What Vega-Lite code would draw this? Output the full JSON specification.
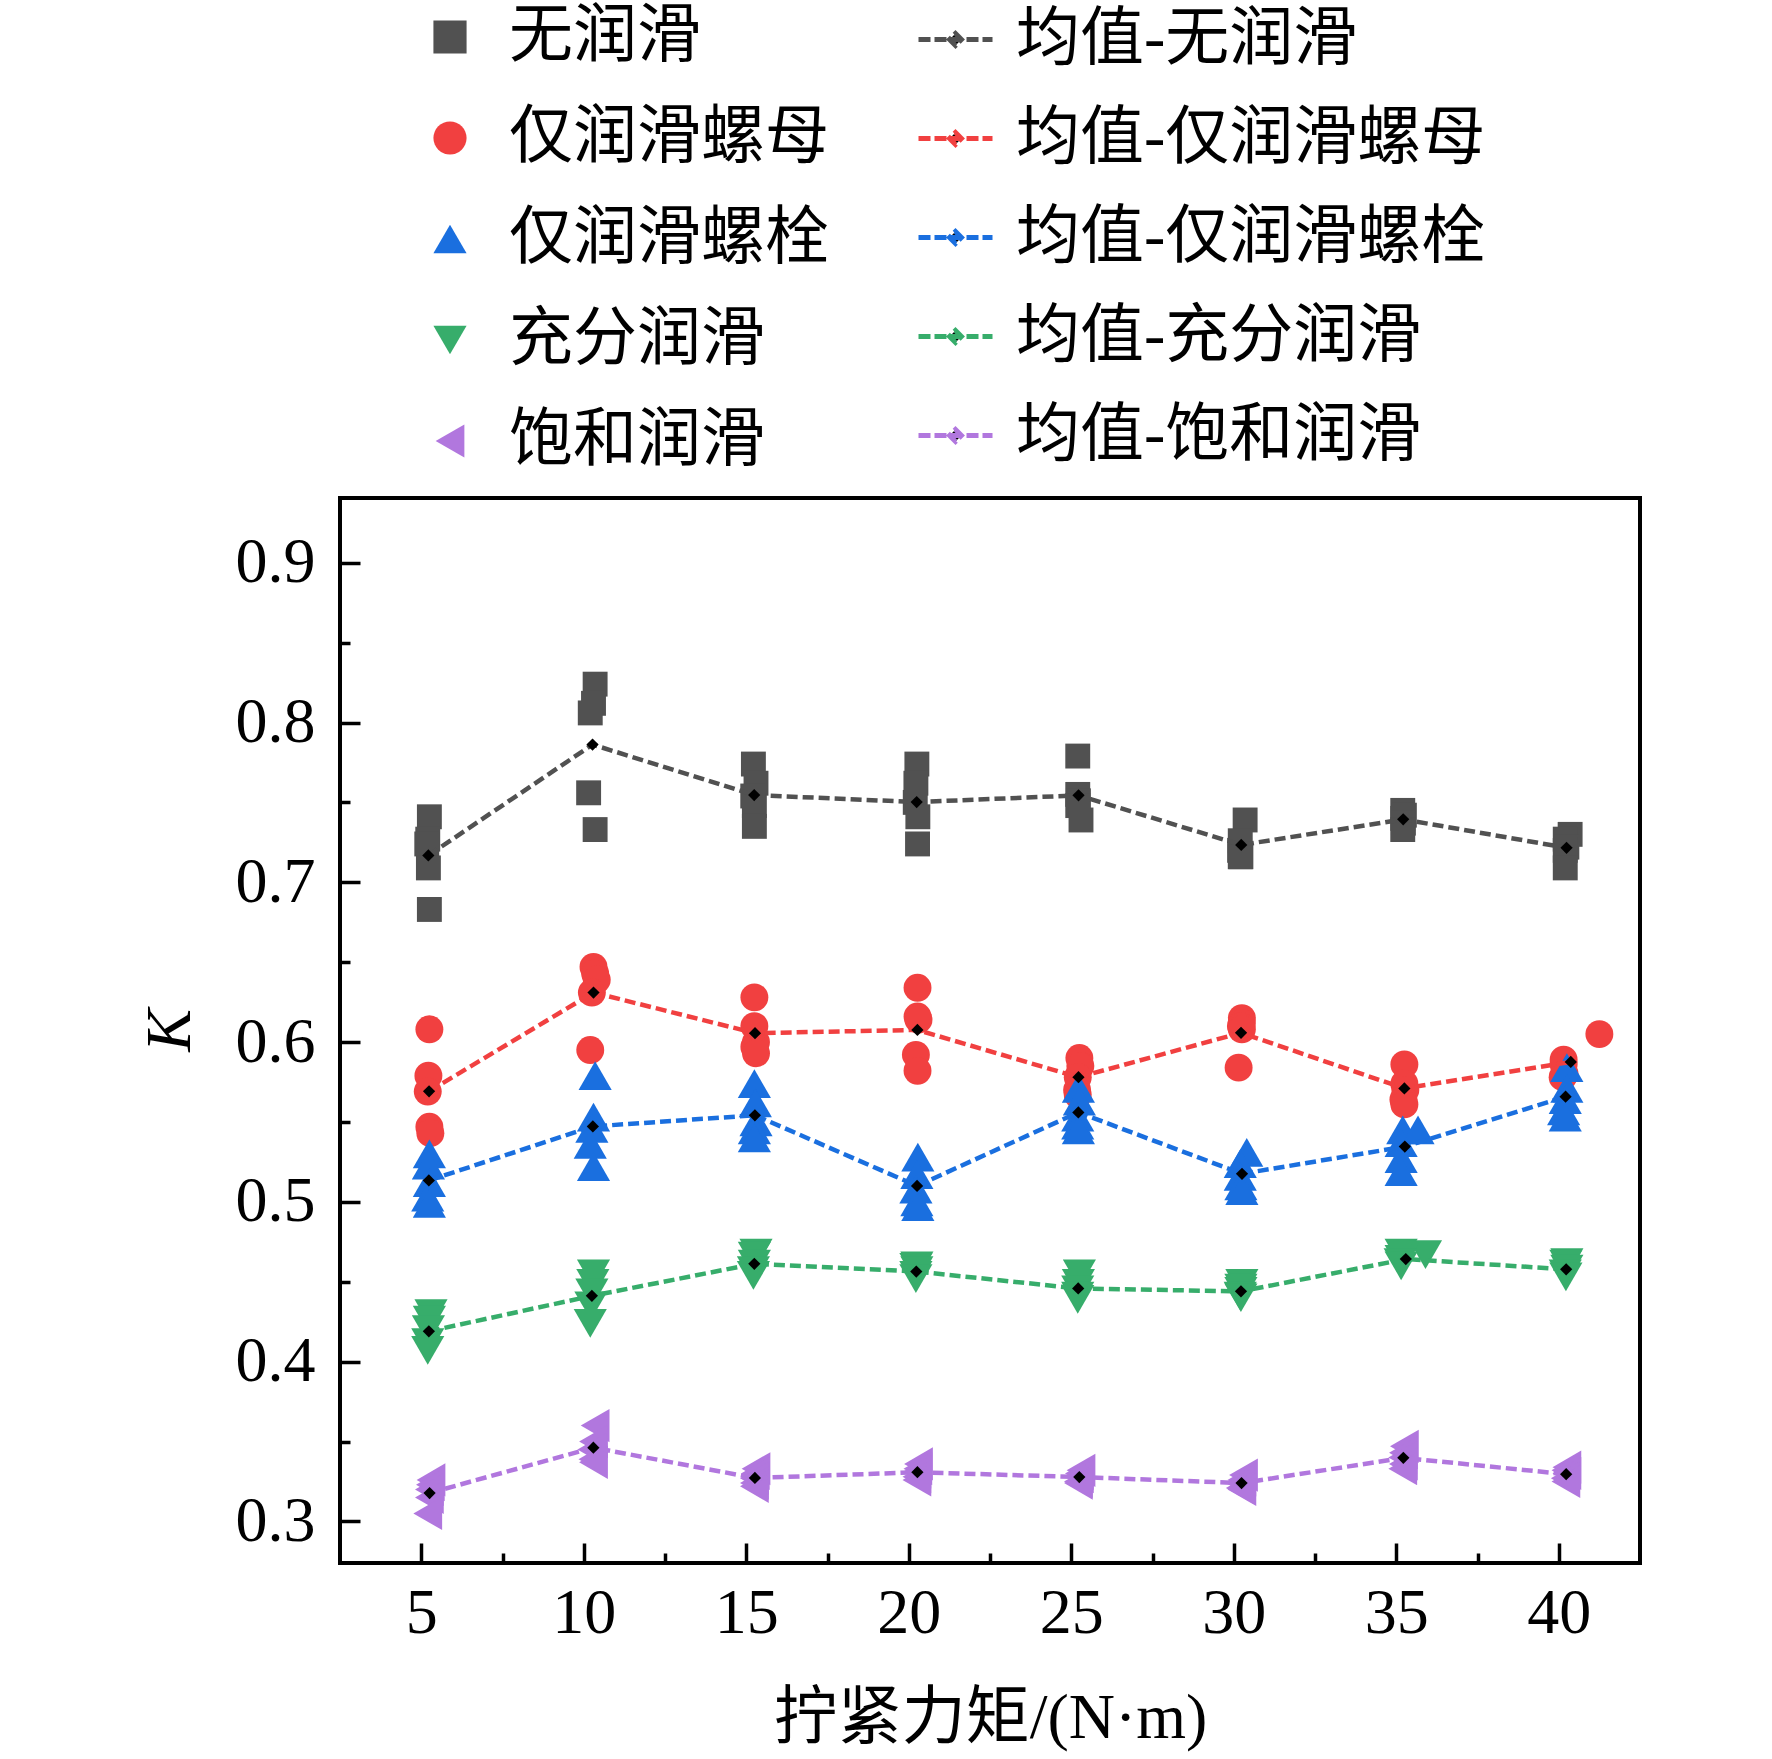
{
  "$schema": "https://vega.github.io/schema/vega-lite/v6.json",
  "width": 1300,
  "height": 1065,
  "autosize": {"type": "none"},
  "padding": {"left": 340, "top": 498, "right": 132, "bottom": 196},
  "background": "white",
  "config": {
    "view": {"stroke": "black", "strokeWidth": 4},
    "axis": {
      "labelFont": "Liberation Serif", "labelFontSize": 64, "labelColor": "black",
      "titleFont": "Liberation Serif, Noto Sans CJK SC", "titleFontSize": 64,
      "titleFontWeight": "normal", "titleColor": "black",
      "tickColor": "black", "tickWidth": 3.5, "domain": false, "grid": false
    },
    "legend": {
      "labelFont": "Liberation Serif, Noto Sans CJK SC", "labelFontSize": 64,
      "labelColor": "black", "labelLimit": 0, "title": null
    }
  },
  "data": {
    "values": [
      {"s":"无润滑","t":5,"x":5.25,"k":0.741},{"s":"无润滑","t":5,"x":5.2,"k":0.727},{"s":"无润滑","t":5,"x":5.17,"k":0.724},{"s":"无润滑","t":5,"x":5.22,"k":0.709},{"s":"无润滑","t":5,"x":5.25,"k":0.683},
      {"s":"无润滑","t":10,"x":10.35,"k":0.824},{"s":"无润滑","t":10,"x":10.3,"k":0.812},{"s":"无润滑","t":10,"x":10.2,"k":0.806},{"s":"无润滑","t":10,"x":10.15,"k":0.756},{"s":"无润滑","t":10,"x":10.35,"k":0.733},
      {"s":"无润滑","t":15,"x":15.22,"k":0.774},{"s":"无润滑","t":15,"x":15.3,"k":0.762},{"s":"无润滑","t":15,"x":15.2,"k":0.754},{"s":"无润滑","t":15,"x":15.25,"k":0.748},{"s":"无润滑","t":15,"x":15.25,"k":0.735},
      {"s":"无润滑","t":20,"x":20.25,"k":0.774},{"s":"无润滑","t":20,"x":20.22,"k":0.762},{"s":"无润滑","t":20,"x":20.2,"k":0.75},{"s":"无润滑","t":20,"x":20.28,"k":0.741},{"s":"无润滑","t":20,"x":20.27,"k":0.724},
      {"s":"无润滑","t":25,"x":25.2,"k":0.779},{"s":"无润滑","t":25,"x":25.2,"k":0.755},{"s":"无润滑","t":25,"x":25.22,"k":0.751},{"s":"无润滑","t":25,"x":25.2,"k":0.748},{"s":"无润滑","t":25,"x":25.3,"k":0.739},
      {"s":"无润滑","t":30,"x":30.35,"k":0.739},{"s":"无润滑","t":30,"x":30.2,"k":0.726},{"s":"无润滑","t":30,"x":30.18,"k":0.72},{"s":"无润滑","t":30,"x":30.2,"k":0.716},{"s":"无润滑","t":30,"x":30.22,"k":0.716},
      {"s":"无润滑","t":35,"x":35.2,"k":0.745},{"s":"无润滑","t":35,"x":35.25,"k":0.742},{"s":"无润滑","t":35,"x":35.2,"k":0.74},{"s":"无润滑","t":35,"x":35.22,"k":0.737},{"s":"无润滑","t":35,"x":35.2,"k":0.733},
      {"s":"无润滑","t":40,"x":40.35,"k":0.73},{"s":"无润滑","t":40,"x":40.2,"k":0.727},{"s":"无润滑","t":40,"x":40.25,"k":0.722},{"s":"无润滑","t":40,"x":40.2,"k":0.72},{"s":"无润滑","t":40,"x":40.2,"k":0.709},
      {"s":"仅润滑螺母","t":5,"x":5.25,"k":0.608},{"s":"仅润滑螺母","t":5,"x":5.22,"k":0.579},{"s":"仅润滑螺母","t":5,"x":5.2,"k":0.569},{"s":"仅润滑螺母","t":5,"x":5.25,"k":0.547},{"s":"仅润滑螺母","t":5,"x":5.28,"k":0.543},
      {"s":"仅润滑螺母","t":10,"x":10.3,"k":0.647},{"s":"仅润滑螺母","t":10,"x":10.35,"k":0.643},{"s":"仅润滑螺母","t":10,"x":10.4,"k":0.639},{"s":"仅润滑螺母","t":10,"x":10.25,"k":0.631},{"s":"仅润滑螺母","t":10,"x":10.2,"k":0.595},
      {"s":"仅润滑螺母","t":15,"x":15.25,"k":0.628},{"s":"仅润滑螺母","t":15,"x":15.25,"k":0.61},{"s":"仅润滑螺母","t":15,"x":15.3,"k":0.6},{"s":"仅润滑螺母","t":15,"x":15.25,"k":0.597},{"s":"仅润滑螺母","t":15,"x":15.3,"k":0.593},
      {"s":"仅润滑螺母","t":20,"x":20.27,"k":0.634},{"s":"仅润滑螺母","t":20,"x":20.27,"k":0.616},{"s":"仅润滑螺母","t":20,"x":20.3,"k":0.614},{"s":"仅润滑螺母","t":20,"x":20.22,"k":0.592},{"s":"仅润滑螺母","t":20,"x":20.27,"k":0.582},
      {"s":"仅润滑螺母","t":25,"x":25.25,"k":0.59},{"s":"仅润滑螺母","t":25,"x":25.28,"k":0.585},{"s":"仅润滑螺母","t":25,"x":25.2,"k":0.578},{"s":"仅润滑螺母","t":25,"x":25.18,"k":0.57},{"s":"仅润滑螺母","t":25,"x":25.2,"k":0.567},
      {"s":"仅润滑螺母","t":30,"x":30.25,"k":0.615},{"s":"仅润滑螺母","t":30,"x":30.25,"k":0.612},{"s":"仅润滑螺母","t":30,"x":30.22,"k":0.61},{"s":"仅润滑螺母","t":30,"x":30.25,"k":0.608},{"s":"仅润滑螺母","t":30,"x":30.15,"k":0.584},
      {"s":"仅润滑螺母","t":35,"x":35.25,"k":0.586},{"s":"仅润滑螺母","t":35,"x":35.25,"k":0.574},{"s":"仅润滑螺母","t":35,"x":35.28,"k":0.57},{"s":"仅润滑螺母","t":35,"x":35.22,"k":0.564},{"s":"仅润滑螺母","t":35,"x":35.25,"k":0.561},
      {"s":"仅润滑螺母","t":40,"x":41.25,"k":0.605},{"s":"仅润滑螺母","t":40,"x":40.15,"k":0.589},{"s":"仅润滑螺母","t":40,"x":40.15,"k":0.586},{"s":"仅润滑螺母","t":40,"x":40.18,"k":0.58},{"s":"仅润滑螺母","t":40,"x":40.12,"k":0.578},
      {"s":"仅润滑螺栓","t":5,"x":5.25,"k":0.53},{"s":"仅润滑螺栓","t":5,"x":5.22,"k":0.523},{"s":"仅润滑螺栓","t":5,"x":5.25,"k":0.512},{"s":"仅润滑螺栓","t":5,"x":5.2,"k":0.503},{"s":"仅润滑螺栓","t":5,"x":5.25,"k":0.499},
      {"s":"仅润滑螺栓","t":10,"x":10.35,"k":0.579},{"s":"仅润滑螺栓","t":10,"x":10.3,"k":0.553},{"s":"仅润滑螺栓","t":10,"x":10.25,"k":0.546},{"s":"仅润滑螺栓","t":10,"x":10.2,"k":0.536},{"s":"仅润滑螺栓","t":10,"x":10.3,"k":0.522},
      {"s":"仅润滑螺栓","t":15,"x":15.25,"k":0.574},{"s":"仅润滑螺栓","t":15,"x":15.28,"k":0.562},{"s":"仅润滑螺栓","t":15,"x":15.3,"k":0.55},{"s":"仅润滑螺栓","t":15,"x":15.25,"k":0.545},{"s":"仅润滑螺栓","t":15,"x":15.25,"k":0.54},
      {"s":"仅润滑螺栓","t":20,"x":20.28,"k":0.528},{"s":"仅润滑螺栓","t":20,"x":20.25,"k":0.517},{"s":"仅润滑螺栓","t":20,"x":20.22,"k":0.508},{"s":"仅润滑螺栓","t":20,"x":20.25,"k":0.5},{"s":"仅润滑螺栓","t":20,"x":20.28,"k":0.497},
      {"s":"仅润滑螺栓","t":25,"x":25.22,"k":0.571},{"s":"仅润滑螺栓","t":25,"x":25.25,"k":0.563},{"s":"仅润滑螺栓","t":25,"x":25.2,"k":0.553},{"s":"仅润滑螺栓","t":25,"x":25.2,"k":0.548},{"s":"仅润滑螺栓","t":25,"x":25.22,"k":0.545},
      {"s":"仅润滑螺栓","t":30,"x":30.4,"k":0.531},{"s":"仅润滑螺栓","t":30,"x":30.2,"k":0.524},{"s":"仅润滑螺栓","t":30,"x":30.2,"k":0.516},{"s":"仅润滑螺栓","t":30,"x":30.22,"k":0.51},{"s":"仅润滑螺栓","t":30,"x":30.25,"k":0.507},
      {"s":"仅润滑螺栓","t":35,"x":35.2,"k":0.545},{"s":"仅润滑螺栓","t":35,"x":35.67,"k":0.545},{"s":"仅润滑螺栓","t":35,"x":35.15,"k":0.537},{"s":"仅润滑螺栓","t":35,"x":35.15,"k":0.527},{"s":"仅润滑螺栓","t":35,"x":35.15,"k":0.519},
      {"s":"仅润滑螺栓","t":40,"x":40.25,"k":0.584},{"s":"仅润滑螺栓","t":40,"x":40.25,"k":0.571},{"s":"仅润滑螺栓","t":40,"x":40.2,"k":0.564},{"s":"仅润滑螺栓","t":40,"x":40.15,"k":0.557},{"s":"仅润滑螺栓","t":40,"x":40.2,"k":0.553},
      {"s":"充分润滑","t":5,"x":5.3,"k":0.43},{"s":"充分润滑","t":5,"x":5.25,"k":0.426},{"s":"充分润滑","t":5,"x":5.22,"k":0.42},{"s":"充分润滑","t":5,"x":5.2,"k":0.412},{"s":"充分润滑","t":5,"x":5.2,"k":0.407},
      {"s":"充分润滑","t":10,"x":10.3,"k":0.455},{"s":"充分润滑","t":10,"x":10.28,"k":0.449},{"s":"充分润滑","t":10,"x":10.25,"k":0.443},{"s":"充分润滑","t":10,"x":10.22,"k":0.435},{"s":"充分润滑","t":10,"x":10.2,"k":0.424},
      {"s":"充分润滑","t":15,"x":15.3,"k":0.468},{"s":"充分润滑","t":15,"x":15.25,"k":0.466},{"s":"充分润滑","t":15,"x":15.25,"k":0.461},{"s":"充分润滑","t":15,"x":15.22,"k":0.457},{"s":"充分润滑","t":15,"x":15.22,"k":0.454},
      {"s":"充分润滑","t":20,"x":20.25,"k":0.46},{"s":"充分润滑","t":20,"x":20.22,"k":0.459},{"s":"充分润滑","t":20,"x":20.25,"k":0.457},{"s":"充分润滑","t":20,"x":20.22,"k":0.454},{"s":"充分润滑","t":20,"x":20.22,"k":0.452},
      {"s":"充分润滑","t":25,"x":25.25,"k":0.455},{"s":"充分润滑","t":25,"x":25.22,"k":0.449},{"s":"充分润滑","t":25,"x":25.2,"k":0.445},{"s":"充分润滑","t":25,"x":25.2,"k":0.441},{"s":"充分润滑","t":25,"x":25.2,"k":0.439},
      {"s":"充分润滑","t":30,"x":30.25,"k":0.449},{"s":"充分润滑","t":30,"x":30.22,"k":0.446},{"s":"充分润滑","t":30,"x":30.22,"k":0.444},{"s":"充分润滑","t":30,"x":30.2,"k":0.441},{"s":"充分润滑","t":30,"x":30.22,"k":0.44},
      {"s":"充分润滑","t":35,"x":35.15,"k":0.468},{"s":"充分润滑","t":35,"x":35.9,"k":0.467},{"s":"充分润滑","t":35,"x":35.15,"k":0.464},{"s":"充分润滑","t":35,"x":35.12,"k":0.462},{"s":"充分润滑","t":35,"x":35.15,"k":0.46},
      {"s":"充分润滑","t":40,"x":40.25,"k":0.462},{"s":"充分润滑","t":40,"x":40.22,"k":0.461},{"s":"充分润滑","t":40,"x":40.25,"k":0.458},{"s":"充分润滑","t":40,"x":40.2,"k":0.455},{"s":"充分润滑","t":40,"x":40.22,"k":0.453},
      {"s":"饱和润滑","t":5,"x":5.3,"k":0.326},{"s":"饱和润滑","t":5,"x":5.28,"k":0.323},{"s":"饱和润滑","t":5,"x":5.25,"k":0.32},{"s":"饱和润滑","t":5,"x":5.25,"k":0.315},{"s":"饱和润滑","t":5,"x":5.2,"k":0.305},
      {"s":"饱和润滑","t":10,"x":10.35,"k":0.36},{"s":"饱和润滑","t":10,"x":10.3,"k":0.35},{"s":"饱和润滑","t":10,"x":10.25,"k":0.345},{"s":"饱和润滑","t":10,"x":10.28,"k":0.339},{"s":"饱和润滑","t":10,"x":10.3,"k":0.337},
      {"s":"饱和润滑","t":15,"x":15.3,"k":0.333},{"s":"饱和润滑","t":15,"x":15.28,"k":0.33},{"s":"饱和润滑","t":15,"x":15.25,"k":0.327},{"s":"饱和润滑","t":15,"x":15.25,"k":0.324},{"s":"饱和润滑","t":15,"x":15.25,"k":0.322},
      {"s":"饱和润滑","t":20,"x":20.3,"k":0.336},{"s":"饱和润滑","t":20,"x":20.28,"k":0.333},{"s":"饱和润滑","t":20,"x":20.25,"k":0.331},{"s":"饱和润滑","t":20,"x":20.25,"k":0.328},{"s":"饱和润滑","t":20,"x":20.25,"k":0.326},
      {"s":"饱和润滑","t":25,"x":25.3,"k":0.332},{"s":"饱和润滑","t":25,"x":25.25,"k":0.33},{"s":"饱和润滑","t":25,"x":25.25,"k":0.328},{"s":"饱和润滑","t":25,"x":25.22,"k":0.325},{"s":"饱和润滑","t":25,"x":25.22,"k":0.324},
      {"s":"饱和润滑","t":30,"x":30.3,"k":0.329},{"s":"饱和润滑","t":30,"x":30.25,"k":0.326},{"s":"饱和润滑","t":30,"x":30.2,"k":0.324},{"s":"饱和润滑","t":30,"x":30.2,"k":0.321},{"s":"饱和润滑","t":30,"x":30.25,"k":0.32},
      {"s":"饱和润滑","t":35,"x":35.25,"k":0.347},{"s":"饱和润滑","t":35,"x":35.22,"k":0.343},{"s":"饱和润滑","t":35,"x":35.2,"k":0.34},{"s":"饱和润滑","t":35,"x":35.22,"k":0.336},{"s":"饱和润滑","t":35,"x":35.2,"k":0.333},
      {"s":"饱和润滑","t":40,"x":40.25,"k":0.334},{"s":"饱和润滑","t":40,"x":40.22,"k":0.332},{"s":"饱和润滑","t":40,"x":40.25,"k":0.33},{"s":"饱和润滑","t":40,"x":40.2,"k":0.327},{"s":"饱和润滑","t":40,"x":40.22,"k":0.325}
    ]
  },
  "resolve": {"axis": {"x": "independent", "y": "independent"}},
  "layer": [
    {
      "mark": {"type": "point", "opacity": 0},
      "encoding": {
        "x": {"field": "x", "type": "quantitative",
          "scale": {"domain": [2.5, 42.5], "nice": false, "zero": false},
          "axis": {"orient": "bottom", "values": [7.5, 12.5, 17.5, 22.5, 27.5, 32.5, 37.5],
            "tickSize": -10, "labels": false, "title": null}},
        "y": {"field": "k", "type": "quantitative",
          "scale": {"domain": [0.274, 0.9405], "nice": false, "zero": false},
          "axis": {"orient": "left", "values": [0.35, 0.45, 0.55, 0.65, 0.75, 0.85],
            "tickSize": -10, "labels": false, "title": null}}
      }
    },
    {
      "mark": {"type": "point", "filled": true, "opacity": 1},
      "encoding": {
        "x": {"field": "x", "type": "quantitative",
          "axis": {"orient": "bottom", "values": [5, 10, 15, 20, 25, 30, 35, 40],
            "tickSize": -20, "labelPadding": 38,
            "title": "拧紧力矩/(N·m)", "titleX": 650, "titleY": 155, "titleBaseline": "middle"}},
        "y": {"field": "k", "type": "quantitative",
          "axis": {"orient": "left", "values": [0.3, 0.4, 0.5, 0.6, 0.7, 0.8, 0.9], "format": ".1f",
            "tickSize": -20, "labelPadding": 45,
            "title": "K", "titleFont": "Liberation Serif", "titleFontStyle": "italic",
            "titleX": -170, "titleY": 532, "titleAngle": -90, "titleBaseline": "middle", "titleAlign": "center"}},
        "color": {"field": "s", "type": "nominal",
          "scale": {"domain": ["无润滑", "仅润滑螺母", "仅润滑螺栓", "充分润滑", "饱和润滑"],
            "range": ["#515151", "#F14040", "#1A6FDF", "#37AD6B", "#B177DE"]},
          "legend": {"orient": "none", "legendX": 78, "legendY": -493, "symbolSize": 1100,
            "labelOffset": 27, "rowPadding": 37, "padding": 0,
            "encode": {"symbols": {"update": {"size": {"signal": "datum.value === '无润滑' ? 620 : datum.value === '仅润滑螺母' ? 780 : 1100"}}}}}},
        "shape": {"field": "s", "type": "nominal",
          "scale": {"domain": ["无润滑", "仅润滑螺母", "仅润滑螺栓", "充分润滑", "饱和润滑"],
            "range": ["square", "circle", "triangle-up", "triangle-down", "triangle-left"]}},
        "size": {"condition": [{"test": "datum.s === '无润滑'", "value": 620}, {"test": "datum.s === '仅润滑螺母'", "value": 780}], "value": 1100}
      }
    },
    {
      "transform": [
        {"aggregate": [{"op": "mean", "field": "x", "as": "mx"}, {"op": "mean", "field": "k", "as": "mk"}], "groupby": ["s", "t"]}
      ],
      "layer": [
        {
          "mark": {"type": "line", "strokeDash": [11, 5], "strokeWidth": 4.5},
          "encoding": {
            "x": {"field": "mx", "type": "quantitative", "axis": null},
            "y": {"field": "mk", "type": "quantitative", "axis": null},
            "stroke": {"field": "s", "type": "nominal",
              "sort": ["无润滑", "仅润滑螺母", "仅润滑螺栓", "充分润滑", "饱和润滑"],
              "scale": {"range": ["#515151", "#F14040", "#1A6FDF", "#37AD6B", "#B177DE"]},
              "legend": {"orient": "none", "legendX": 576, "legendY": -498,
                "symbolType": "M-1,0L1,0M0,-0.16L0.16,0L0,0.16L-0.16,0Z", "symbolSize": 5476,
                "symbolStrokeWidth": 5, "symbolDash": [12, 4], "symbolFillColor": "black",
                "labelOffset": 21, "rowPadding": 27, "padding": 0,
                "labelExpr": "'均值-' + datum.label",
                "encode": {"symbols": {"update": {"fill": {"value": "black"}, "fillOpacity": {"value": 1}, "opacity": {"value": 1}, "strokeWidth": {"value": 5}, "strokeDash": {"value": [12, 4]}}}}}}
          }
        },
        {
          "mark": {"type": "point", "shape": "diamond", "filled": true, "color": "black", "size": 150, "opacity": 1},
          "encoding": {
            "x": {"field": "mx", "type": "quantitative", "axis": null},
            "y": {"field": "mk", "type": "quantitative", "axis": null}
          }
        }
      ]
    }
  ]
}
